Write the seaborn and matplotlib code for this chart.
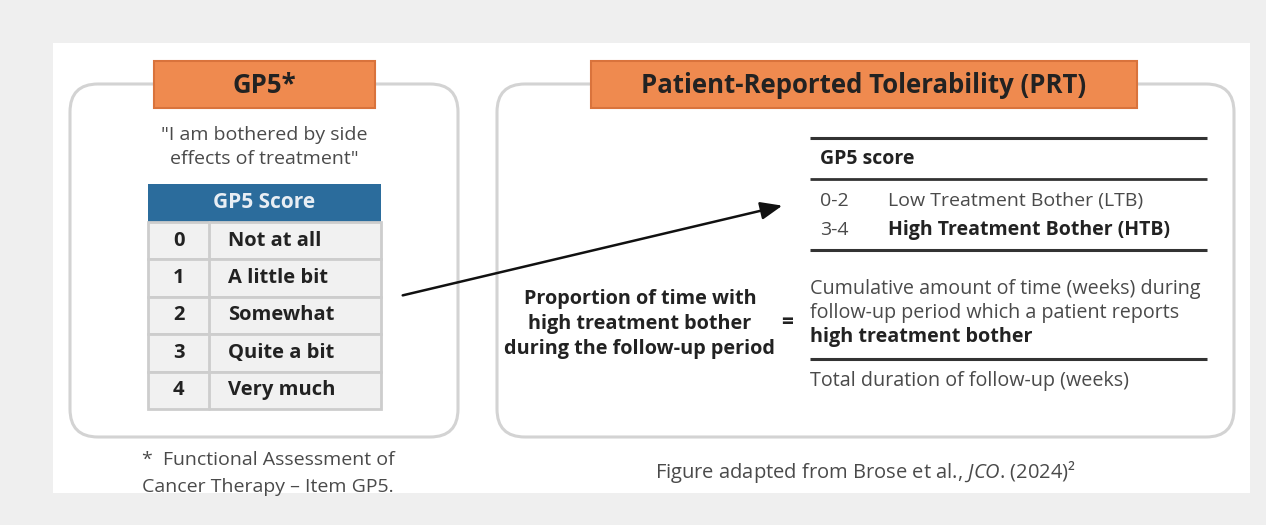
"""Recreate the GP5 / Patient-Reported Tolerability explainer figure."""

import matplotlib

matplotlib.use("Agg")
import matplotlib.pyplot as plt
from matplotlib.patches import FancyBboxPatch, Rectangle
import seaborn as sns

# ---- content ----
left_title = "GP5*"
right_title = "Patient-Reported Tolerability (PRT)"
quote_lines = ['"I am bothered by side', 'effects of treatment"']
table_header = "GP5 Score"
scores = [0, 1, 2, 3, 4]
score_labels = ["Not at all", "A little bit", "Somewhat", "Quite a bit", "Very much"]
prt_header = "GP5 score"
prt_ranges = ["0-2", "3-4"]
prt_labels = ["Low Treatment Bother (LTB)", "High Treatment Bother (HTB)"]
prt_bold = [False, True]
lhs_lines = ["Proportion of time with", "high treatment bother", "during the follow-up period"]
numerator_lines = ["Cumulative amount of time (weeks) during",
                   "follow-up period which a patient reports",
                   "high treatment bother"]
denominator = "Total duration of follow-up (weeks)"
footnote_lines = ["*  Functional Assessment of", "Cancer Therapy \u2013 Item GP5."]
source_note = "Figure adapted from Brose et al., $\\it{JCO}$. (2024)\u00b2"

ORANGE = "#ef8a4f"
ORANGE_EDGE = "#d9733c"
BLUE = "#2b6c9c"
BOX_EDGE = "#d3d3d3"
TEXT = "#222222"
GREY_TEXT = "#4a4a4a"

sns.set_theme(style="white")
plt.rcParams["font.family"] = ["Open Sans", "DejaVu Sans"]
plt.rcParams["mathtext.fontset"] = "custom"
plt.rcParams["mathtext.rm"] = "Open Sans"
plt.rcParams["mathtext.it"] = "Open Sans:italic"

fig = plt.figure(figsize=(12.66, 5.25), dpi=100)
fig.patch.set_facecolor("#efefef")
ax = fig.add_axes([0, 0, 1, 1])
ax.set_xlim(0, 1266)
ax.set_ylim(525, 0)
ax.axis("off")

# white panel
ax.add_patch(Rectangle((53, 43), 1197, 450, facecolor="white", edgecolor="none"))


def rounded(x, y, w, h):
    ax.add_patch(FancyBboxPatch((x, y), w, h, boxstyle="round,pad=0,rounding_size=28",
                                facecolor="white", edgecolor=BOX_EDGE, linewidth=2.2))


def title_box(x, y, w, h, text, size):
    ax.add_patch(Rectangle((x, y), w, h, facecolor=ORANGE, edgecolor=ORANGE_EDGE, linewidth=1.5))
    ax.text(x + w / 2, y + h / 2 + 1, text, ha="center", va="center",
            fontsize=size, fontweight="bold", color=TEXT)


rounded(70, 84, 388, 353)
rounded(497, 84, 737, 353)
title_box(154, 61, 221, 47, left_title, 18.5)
title_box(591, 61, 546, 47, right_title, 18.5)

# quote
for i, line in enumerate(quote_lines):
    ax.text(264, 135 + i * 24, line, ha="center", va="center", fontsize=14, color=GREY_TEXT)

# GP5 table
tx0, tx1, tdiv = 148, 381, 209
ax.add_patch(Rectangle((tx0, 184), tx1 - tx0, 38, facecolor=BLUE, edgecolor="none"))
ax.text((tx0 + tx1) / 2, 203, table_header, ha="center", va="center",
        fontsize=15, fontweight="bold", color="#e8eef4")
row_h = 37.4
for i, (s, lab) in enumerate(zip(scores, score_labels)):
    y0 = 222 + i * row_h
    ax.add_patch(Rectangle((tx0, y0), tx1 - tx0, row_h, facecolor="#f1f1f1",
                           edgecolor="#cdcdcd", linewidth=2))
    ax.text((tx0 + tdiv) / 2, y0 + row_h / 2, str(s), ha="center", va="center",
            fontsize=14.5, fontweight="bold", color=TEXT)
    ax.text(228, y0 + row_h / 2, lab, ha="left", va="center",
            fontsize=14.5, fontweight="bold", color=TEXT)
ax.plot([tdiv, tdiv], [222, 222 + 5 * row_h], color="#cdcdcd", linewidth=2)

# arrow
ax.annotate("", xy=(785, 205), xytext=(400, 296),
            arrowprops=dict(arrowstyle="-|>,head_length=1.1,head_width=0.45",
                            color="#111111", linewidth=1.8))

# PRT score table
lx0, lx1 = 810, 1207
for yy, lw in [(138, 2.2), (179, 2.0), (250, 2.2), (359, 2.2)]:
    ax.plot([lx0, lx1], [yy, yy], color="#333333", linewidth=lw, solid_capstyle="butt")
ax.text(820, 159, prt_header, ha="left", va="center", fontsize=14,
        fontweight="bold", color=TEXT)
for i, (rng, lab, b) in enumerate(zip(prt_ranges, prt_labels, prt_bold)):
    yy = 201 + i * 29
    ax.text(820, yy, rng, ha="left", va="center", fontsize=14, color=GREY_TEXT)
    ax.text(888, yy, lab, ha="left", va="center", fontsize=14,
            fontweight="bold" if b else "normal", color=TEXT if b else GREY_TEXT)

# formula
for i, line in enumerate(lhs_lines):
    ax.text(640, 299 + i * 25, line, ha="center", va="center", fontsize=14.3,
            fontweight="bold", color=TEXT)
ax.text(787, 322, "=", ha="center", va="center", fontsize=15, fontweight="bold", color=TEXT)
for i, line in enumerate(numerator_lines):
    bold = i == len(numerator_lines) - 1
    ax.text(810, 289 + i * 24, line, ha="left", va="center", fontsize=14.2,
            fontweight="bold" if bold else "normal", color=TEXT if bold else GREY_TEXT)
ax.text(810, 381, denominator, ha="left", va="center", fontsize=14.2, color=GREY_TEXT)

# footnotes
for i, line in enumerate(footnote_lines):
    ax.text(268, 460 + i * 27, line, ha="center", va="center", fontsize=14, color=GREY_TEXT)
ax.text(865, 472, source_note, ha="center", va="center", fontsize=14.5, color=GREY_TEXT)

fig.savefig("out.png", dpi=100, facecolor=fig.get_facecolor())
